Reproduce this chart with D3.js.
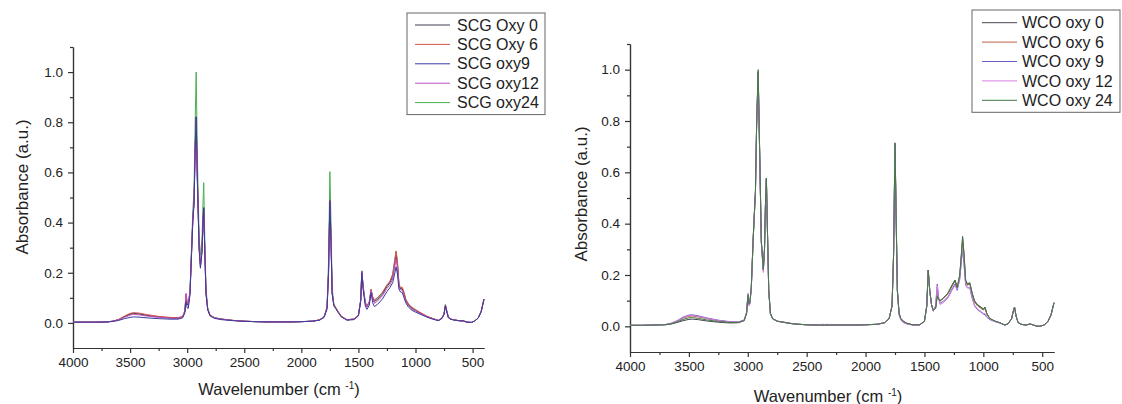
<!DOCTYPE html>
<html>
<head>
<meta charset="utf-8">
<script src="https://cdn.jsdelivr.net/npm/d3@7"></script>
<style>
  body { margin: 0; background: #fff; }
  svg { font-family: "Liberation Sans", Arial, sans-serif; }
  .axis path, .axis line { stroke: #333; stroke-width: 1.2; }
  .axis text { fill: #222; font-size: 13.5px; font-family: "Liberation Sans", Arial, sans-serif; }
  .xtitle { fill: #222; font-size: 16.5px; }
  .ytitle { fill: #222; font-size: 17px; }
  .legend text { fill: #222; font-size: 16px; }
</style>
</head>
<body>
<svg id="chart" width="1122" height="404"></svg>
<script>
var WIDTH = 1122;
var HEIGHT = 404;

// ticks shared by both panels
var majorX = [4000, 3500, 3000, 2500, 2000, 1500, 1000, 500];
var minorX = [3750, 3250, 2750, 2250, 1750, 1250, 750];
var majorY = [0, 0.2, 0.4, 0.6, 0.8, 1.0];
var minorY = [0.1, 0.3, 0.5, 0.7, 0.9, 1.1];

// left panel: SCG
var scgLabels = ['SCG Oxy 0', 'SCG Oxy 6', 'SCG oxy9', 'SCG oxy12', 'SCG oxy24'];
var scgColors = ['#3f3f52', '#d9534f', '#3a3aa0', '#c04fc0', '#4caf50'];
var scgWave = [4000,3900,3800,3700,3650,3600,3550,3500,3470,3420,
  3350,3250,3150,3080,3040,3020,3010,3000,2990,2975,
  2960,2950,2940,2930,2921,2910,2895,2884,2870,2862,
  2855,2845,2835,2820,2800,2760,2700,2600,2500,2400,
  2300,2200,2100,2000,1900,1840,1800,1775,1762,1750,
  1740,1730,1715,1700,1680,1650,1600,1540,1500,1480,
  1470,1458,1440,1425,1405,1389,1375,1360,1330,1290,
  1250,1225,1200,1185,1170,1158,1145,1135,1115,1100,
  1085,1060,1030,1000,960,900,850,800,770,750,
  738,725,712,690,660,620,580,550,510,480,
  450,425,400];
var scgOxy0 = [.003,.003,.003,.004,.007,.013,.025,.035,.038,.036,
  .030,.024,.020,.019,.024,.045,.105,.075,.070,.120,
  .300,.420,.480,.700,.820,.560,.300,.225,.290,.400,
  .460,.280,.120,.055,.030,.020,.015,.010,.007,.005,
  .004,.004,.004,.005,.007,.012,.025,.060,.200,.490,
  .330,.120,.070,.060,.045,.025,.012,.015,.030,.090,
  .205,.140,.080,.064,.080,.130,.100,.085,.095,.115,
  .145,.160,.185,.225,.270,.230,.150,.138,.135,.115,
  .090,.070,.058,.050,.040,.025,.017,.010,.018,.035,
  .070,.045,.022,.015,.012,.009,.008,.003,.002,.008,
  .020,.045,.095];
var scgOxy6 = [.003,.003,.003,.004,.007,.014,.027,.038,.041,.039,
  .033,.026,.022,.021,.026,.050,.115,.080,.075,.125,
  .300,.420,.480,.700,.815,.560,.300,.230,.290,.400,
  .455,.280,.120,.055,.030,.020,.015,.010,.007,.005,
  .004,.004,.004,.005,.007,.012,.025,.060,.200,.488,
  .330,.120,.072,.062,.047,.027,.013,.016,.032,.090,
  .205,.140,.082,.068,.085,.134,.105,.092,.102,.122,
  .152,.165,.195,.240,.287,.245,.160,.142,.142,.122,
  .095,.075,.062,.053,.042,.027,.018,.010,.018,.035,
  .070,.045,.022,.015,.012,.009,.008,.003,.002,.008,
  .020,.045,.095];
var scgOxy9 = [.003,.003,.003,.004,.006,.010,.017,.022,.024,.023,
  .020,.017,.015,.015,.020,.040,.085,.060,.058,.115,
  .290,.410,.470,.690,.822,.555,.290,.218,.280,.390,
  .457,.270,.115,.052,.028,.018,.013,.009,.006,.005,
  .004,.004,.004,.005,.007,.011,.022,.055,.190,.485,
  .320,.115,.068,.058,.043,.024,.011,.013,.028,.085,
  .200,.130,.068,.054,.070,.120,.080,.065,.075,.095,
  .125,.140,.160,.190,.224,.195,.135,.125,.120,.100,
  .080,.062,.050,.043,.035,.023,.015,.009,.017,.033,
  .068,.043,.020,.014,.011,.009,.008,.003,.002,.008,
  .020,.045,.095];
var scgOxy12 = [.003,.003,.003,.004,.007,.012,.022,.031,.034,.032,
  .027,.022,.019,.018,.023,.048,.118,.085,.080,.125,
  .300,.420,.480,.690,.805,.550,.300,.235,.290,.400,
  .450,.280,.120,.055,.030,.020,.015,.010,.007,.005,
  .004,.004,.004,.005,.007,.012,.024,.058,.195,.480,
  .320,.118,.070,.060,.045,.025,.012,.015,.030,.090,
  .205,.140,.080,.064,.080,.130,.095,.078,.088,.108,
  .138,.150,.175,.215,.255,.220,.145,.133,.130,.110,
  .087,.068,.055,.048,.038,.025,.017,.010,.018,.035,
  .070,.045,.022,.015,.012,.009,.008,.003,.002,.008,
  .020,.045,.095];
var scgOxy24 = [.003,.003,.003,.004,.007,.013,.025,.035,.038,.036,
  .030,.024,.020,.019,.024,.045,.110,.075,.072,.130,
  .330,.450,.530,.800,1.00,.650,.340,.270,.330,.470,
  .559,.320,.140,.060,.032,.021,.016,.010,.007,.005,
  .004,.004,.004,.005,.007,.012,.026,.065,.240,.603,
  .400,.140,.075,.063,.047,.026,.012,.015,.030,.092,
  .208,.145,.082,.066,.082,.134,.100,.088,.100,.120,
  .150,.163,.192,.240,.284,.240,.155,.140,.138,.118,
  .092,.072,.060,.052,.041,.026,.017,.010,.018,.036,
  .074,.046,.022,.015,.012,.009,.008,.003,.002,.008,
  .020,.045,.095];

// right panel: WCO
var wcoLabels = ['WCO oxy 0', 'WCO oxy 6', 'WCO oxy 9', 'WCO oxy 12', 'WCO oxy 24'];
var wcoColors = ['#45454f', '#b8604a', '#6a5fc4', '#d47ee0', '#3f7a45'];
var wcoWave = [4000,3900,3800,3700,3650,3600,3550,3500,3470,3420,
  3350,3250,3150,3080,3030,3010,2998,2990,2982,2970,
  2955,2945,2935,2925,2912,2900,2885,2868,2858,2850,
  2842,2832,2822,2808,2790,2750,2700,2650,2600,2500,
  2400,2360,2345,2330,2300,2200,2100,2000,1900,1840,
  1800,1775,1762,1750,1740,1730,1715,1700,1680,1650,
  1600,1540,1500,1480,1468,1455,1440,1425,1405,1391,
  1380,1368,1340,1300,1260,1240,1222,1200,1185,1176,
  1165,1150,1135,1115,1095,1075,1050,1020,1000,986,
  970,944,900,860,817,790,760,745,735,722,
  705,680,640,604,580,550,519,480,450,425,
  400];
var wcoOxy0 = [.004,.004,.005,.006,.009,.015,.022,.027,.028,.026,
  .021,.016,.013,.014,.022,.050,.120,.085,.090,.150,
  .330,.430,.520,.780,.990,.700,.330,.220,.300,.470,
  .575,.350,.140,.050,.030,.020,.016,.012,.009,.006,
  .005,.005,.005,.005,.005,.005,.005,.006,.008,.014,
  .030,.080,.280,.712,.420,.140,.050,.030,.020,.012,
  .006,.006,.020,.080,.219,.140,.085,.062,.070,.118,
  .105,.100,.110,.130,.165,.180,.150,.200,.290,.350,
  .290,.180,.165,.170,.130,.100,.085,.075,.068,.075,
  .050,.030,.020,.014,.005,.010,.030,.060,.075,.040,
  .015,.008,.005,.009,.006,.001,.000,.006,.020,.045,
  .092];
var wcoOxy6 = [.004,.004,.005,.007,.011,.020,.032,.039,.040,.037,
  .030,.022,.017,.016,.024,.052,.125,.085,.092,.150,
  .330,.430,.520,.780,.992,.700,.330,.220,.300,.470,
  .575,.350,.140,.050,.030,.020,.016,.012,.009,.006,
  .005,.006,.004,.006,.005,.005,.005,.006,.008,.014,
  .030,.080,.280,.712,.420,.140,.050,.030,.020,.012,
  .006,.006,.020,.080,.219,.140,.085,.062,.075,.140,
  .110,.098,.108,.127,.160,.176,.150,.195,.280,.332,
  .275,.175,.160,.165,.125,.095,.080,.070,.063,.070,
  .047,.030,.020,.014,.005,.010,.030,.060,.075,.040,
  .015,.008,.005,.009,.006,.001,.000,.006,.020,.045,
  .092];
var wcoOxy9 = [.004,.004,.005,.007,.012,.022,.036,.044,.045,.041,
  .033,.024,.018,.017,.025,.055,.128,.082,.090,.150,
  .330,.430,.520,.780,.988,.700,.330,.218,.300,.470,
  .575,.350,.140,.050,.030,.020,.017,.013,.009,.006,
  .005,.006,.004,.006,.005,.005,.005,.006,.008,.014,
  .030,.080,.280,.710,.420,.140,.045,.026,.016,.010,
  .005,.005,.020,.080,.217,.140,.085,.060,.080,.165,
  .112,.090,.098,.115,.150,.165,.140,.185,.260,.297,
  .245,.160,.150,.150,.110,.080,.065,.055,.048,.045,
  .035,.026,.018,.013,.005,.010,.030,.060,.075,.040,
  .015,.008,.005,.009,.006,.001,.000,.006,.020,.045,
  .092];
var wcoOxy12 = [.004,.004,.005,.007,.012,.021,.034,.042,.043,.039,
  .031,.023,.017,.016,.024,.054,.127,.080,.090,.150,
  .330,.430,.520,.775,.985,.695,.325,.210,.300,.465,
  .572,.345,.140,.050,.030,.020,.016,.012,.009,.006,
  .005,.009,.002,.009,.005,.005,.005,.006,.008,.014,
  .030,.080,.280,.708,.420,.140,.042,.024,.014,.009,
  .005,.005,.020,.080,.215,.140,.085,.058,.080,.160,
  .110,.085,.092,.110,.145,.160,.145,.185,.265,.310,
  .260,.165,.150,.152,.112,.083,.068,.058,.050,.050,
  .038,.027,.019,.013,.005,.010,.030,.060,.075,.040,
  .015,.008,.005,.009,.006,.001,.000,.006,.020,.045,
  .092];
var wcoOxy24 = [.004,.004,.005,.006,.010,.017,.027,.033,.034,.031,
  .025,.019,.015,.015,.023,.052,.122,.088,.095,.155,
  .335,.435,.530,.790,1.00,.710,.335,.222,.305,.478,
  .578,.355,.142,.052,.030,.020,.016,.012,.009,.006,
  .005,.005,.005,.005,.005,.005,.005,.006,.008,.014,
  .030,.080,.280,.715,.420,.140,.050,.030,.020,.012,
  .006,.006,.020,.080,.219,.140,.085,.062,.070,.120,
  .105,.100,.110,.130,.165,.180,.150,.200,.288,.345,
  .285,.178,.163,.168,.128,.098,.083,.073,.066,.073,
  .049,.030,.020,.014,.005,.010,.030,.060,.075,.040,
  .015,.008,.005,.009,.006,.001,.000,.006,.020,.045,
  .092];

var panels = [
  {
    wave: scgWave,
    series: [scgOxy0, scgOxy6, scgOxy9, scgOxy12, scgOxy24],
    labels: scgLabels,
    colors: scgColors,
    drawOrder: [4, 0, 1, 3, 2], // blue ends up on top, green only shows at the peak tips
    left: 73, right: 484, top: 47, bottom: 348,
    xTitle: 'Wavelenumber (cm ', xTitleX: 279, xTitleY: 389,
    yTitleX: 22, yTitleY: 187,
    legend: { x: 407, y: 13, w: 138, first: 25, lineX: 415, lineW: 35, textX: 457 }
  },
  {
    wave: wcoWave,
    series: [wcoOxy0, wcoOxy6, wcoOxy9, wcoOxy12, wcoOxy24],
    labels: wcoLabels,
    colors: wcoColors,
    drawOrder: [0, 1, 2, 3, 4],
    left: 630, right: 1054, top: 44, bottom: 352,
    xTitle: 'Wavenumber (cm ', xTitleX: 828, xTitleY: 396,
    yTitleX: 581, yTitleY: 194,
    legend: { x: 972, y: 10, w: 148, first: 22.7, lineX: 982, lineW: 35, textX: 1022 }
  }
];

var svg = d3.select('#chart');

function drawPanel(p) {
  var x = d3.scaleLinear().domain([4000, 400]).range([p.left, p.right]);
  var y = d3.scaleLinear().domain([-0.1, 1.1]).range([p.bottom, p.top]);

  var g = svg.append('g');

  g.append('g')
    .attr('class', 'axis')
    .attr('transform', 'translate(0,' + p.bottom + ')')
    .call(d3.axisBottom(x).tickValues(majorX).tickSize(5).tickSizeOuter(0).tickPadding(4).tickFormat(d3.format('d')));
  g.append('g')
    .attr('class', 'axis')
    .attr('transform', 'translate(0,' + p.bottom + ')')
    .call(d3.axisBottom(x).tickValues(minorX).tickSize(3).tickSizeOuter(0).tickFormat(''));

  g.append('g')
    .attr('class', 'axis')
    .attr('transform', 'translate(' + p.left + ',0)')
    .call(d3.axisLeft(y).tickValues(majorY).tickSize(5).tickSizeOuter(0).tickPadding(5).tickFormat(d3.format('.1f')));
  g.append('g')
    .attr('class', 'axis')
    .attr('transform', 'translate(' + p.left + ',0)')
    .call(d3.axisLeft(y).tickValues(minorY).tickSize(3).tickSizeOuter(0).tickFormat(''));

  var line = d3.line()
    .x(function(d) { return x(d[0]); })
    .y(function(d) { return y(d[1]); });

  p.drawOrder.forEach(function(i) {
    var values = p.series[i];
    var pts = p.wave.map(function(w, k) { return [w, values[k]]; });
    g.append('path')
      .attr('d', line(pts))
      .attr('fill', 'none')
      .attr('stroke', p.colors[i])
      .attr('stroke-width', 1)
      .attr('stroke-linejoin', 'round');
  });

  // axis titles
  var xt = g.append('text')
    .attr('class', 'xtitle')
    .attr('x', p.xTitleX)
    .attr('y', p.xTitleY)
    .attr('dy', '0.35em')
    .attr('text-anchor', 'middle')
    .text(p.xTitle);
  xt.append('tspan').attr('dy', -6).style('font-size', '10px').text('-1');
  xt.append('tspan').attr('dy', 6).text(')');

  g.append('text')
    .attr('class', 'ytitle')
    .attr('transform', 'translate(' + p.yTitleX + ',' + p.yTitleY + ') rotate(-90)')
    .attr('dy', '0.35em')
    .attr('text-anchor', 'middle')
    .text('Absorbance (a.u.)');

  // legend
  var lg = g.append('g').attr('class', 'legend');
  var rowH = 19.4;
  lg.append('rect')
    .attr('x', p.legend.x).attr('y', p.legend.y)
    .attr('width', p.legend.w)
    .attr('height', p.legend.first - p.legend.y + rowH * (p.labels.length - 1) + 12)
    .attr('fill', '#fff').attr('stroke', '#666').attr('stroke-width', 1);
  p.labels.forEach(function(label, i) {
    var cy = p.legend.first + i * rowH;
    lg.append('line')
      .attr('x1', p.legend.lineX).attr('x2', p.legend.lineX + p.legend.lineW)
      .attr('y1', cy).attr('y2', cy)
      .attr('stroke', p.colors[i]).attr('stroke-width', 1);
    lg.append('text')
      .attr('x', p.legend.textX).attr('y', cy)
      .attr('dy', '0.35em')
      .text(label);
  });
}

panels.forEach(drawPanel);
</script>
</body>
</html>
